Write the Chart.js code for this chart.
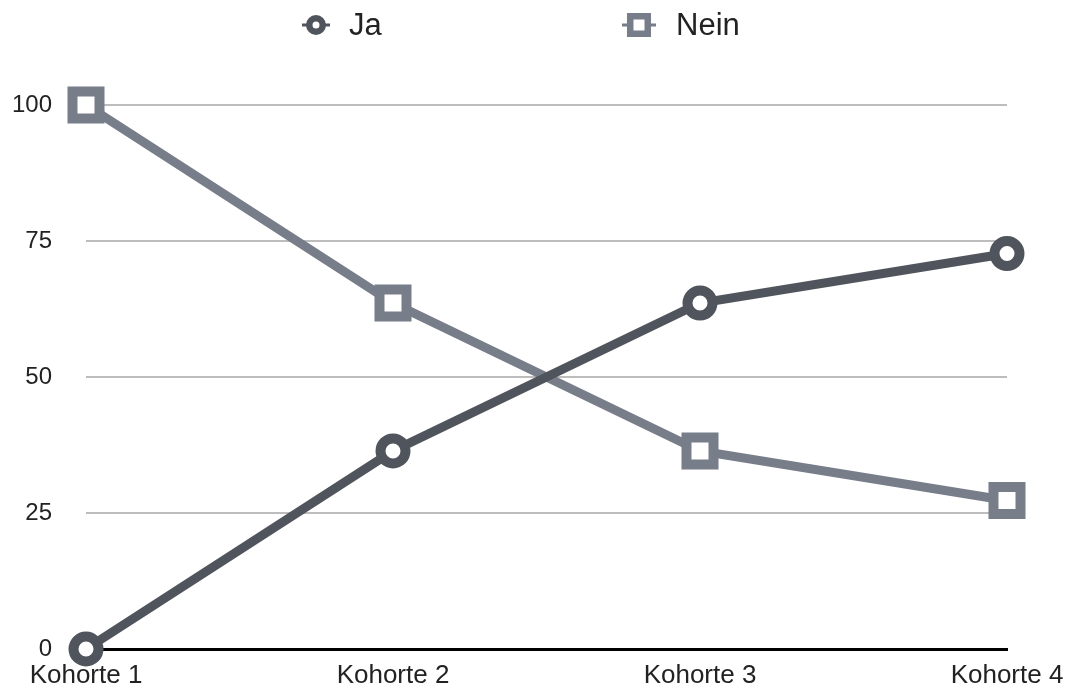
<!DOCTYPE html>
<html>
<head>
<meta charset="utf-8">
<script src="https://cdn.jsdelivr.net/npm/chart.js@4"></script>
<style>
  html, body { margin: 0; padding: 0; background: #fff; overflow: hidden; }
  canvas { display: block; }
</style>
</head>
<body>
<canvas id="kohortenChart" width="1070" height="688"></canvas>
<script>
const kohorten = ['Kohorte 1', 'Kohorte 2', 'Kohorte 3', 'Kohorte 4'];
const jaWerte = [0, 36.4, 63.6, 72.7];
const neinWerte = [100, 63.6, 36.4, 27.3];
const yTicks = [0, 25, 50, 75, 100];

const farbeJa = '#50545c';
const farbeNein = '#777d89';

Chart.defaults.font.family = "'Liberation Sans', Arial, sans-serif";
Chart.defaults.color = '#222';

// eigene Legende: Marker mit kurzem Linienstück, dann Beschriftung
const legendePlugin = {
    id: 'legende',
    afterDraw(chart) {
        const ctx = chart.ctx;
        const items = [
            { ds: chart.data.datasets[0], x: 316, half: 14, text: 349, r: 6.75, bw: 6.5 },
            { ds: chart.data.datasets[1], x: 639, half: 17, text: 676, r: 12.4, bw: 6.5 }
        ];
        const y = 25;
        items.forEach(it => {
            ctx.save();
            ctx.strokeStyle = it.ds.borderColor;
            ctx.lineWidth = 3;
            ctx.beginPath();
            ctx.moveTo(it.x - it.half, y);
            ctx.lineTo(it.x + it.half, y);
            ctx.stroke();
            ctx.fillStyle = '#fff';
            ctx.lineWidth = it.bw;
            Chart.helpers.drawPoint(ctx, { pointStyle: it.ds.pointStyle, rotation: 0, radius: it.r, borderWidth: it.bw }, it.x, y);
            ctx.restore();
            ctx.save();
            ctx.beginPath();
            ctx.fillStyle = '#222';
            ctx.font = "31px 'Liberation Sans', Arial, sans-serif";
            ctx.textBaseline = 'middle';
            ctx.fillText(it.ds.label, it.text, y + 1);
            ctx.restore();
        });
    }
};

new Chart(document.getElementById('kohortenChart'), {
    type: 'line',
    data: {
        labels: kohorten,
        datasets: [
            {
                label: 'Ja',
                data: jaWerte,
                borderColor: farbeJa,
                backgroundColor: '#fff',
                borderWidth: 9,
                pointStyle: 'circle',
                pointRadius: 12.5,
                pointBorderWidth: 10,
                pointBackgroundColor: '#fff',
                pointBorderColor: farbeJa,
                clip: false,
                tension: 0
            },
            {
                label: 'Nein',
                data: neinWerte,
                borderColor: farbeNein,
                backgroundColor: '#fff',
                borderWidth: 9,
                pointStyle: 'rect',
                pointRadius: 19.1,
                pointBorderWidth: 10,
                pointBackgroundColor: '#fff',
                pointBorderColor: farbeNein,
                clip: false,
                tension: 0
            }
        ]
    },
    options: {
        responsive: false,
        animation: false,
        layout: { padding: { top: 105, right: 63, left: 0, bottom: 0 } },
        plugins: {
            legend: { display: false },
            tooltip: { enabled: false }
        },
        scales: {
            x: {
                offset: false,
                afterFit: s => { s.height = 39; s.paddingRight = 0; },
                grid: { display: false, drawTicks: false },
                border: { color: '#000', width: 3 },
                ticks: { font: { size: 26 }, padding: 11, color: '#222', maxRotation: 0 }
            },
            y: {
                min: 0,
                max: 100,
                afterFit: s => { s.width = 86; s.paddingBottom = 0; },
                afterBuildTicks: s => { s.ticks = yTicks.map(v => ({ value: v })); },
                grid: {
                    drawTicks: false,
                    lineWidth: 2,
                    color: ctx => ctx.tick && ctx.tick.value === 0 ? 'rgba(0,0,0,0)' : '#bdbdbd'
                },
                border: { display: false },
                ticks: { font: { size: 24 }, padding: 34, color: '#222' }
            }
        }
    },
    plugins: [legendePlugin]
});
</script>
</body>
</html>
